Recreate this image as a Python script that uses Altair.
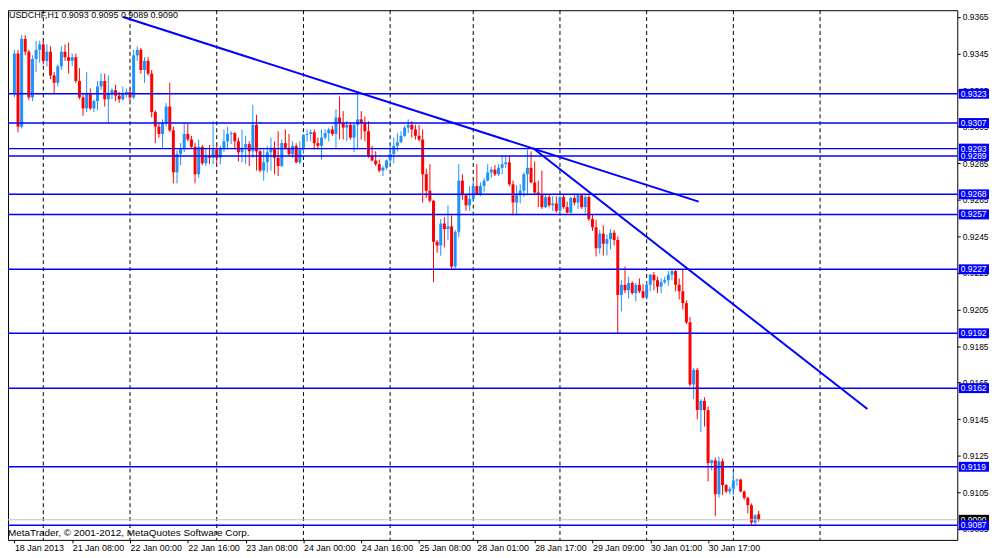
import altair as alt
import pandas as pd

# ---------------- data (USDCHF, H1) ----------------
opens = [
    0.9323, 0.9345, 0.9305, 0.9353, 0.9346, 0.9321, 0.9342, 0.9347, 0.9350, 0.9341,
    0.9346, 0.9333, 0.9329, 0.9338, 0.9346, 0.9343, 0.9341, 0.9343, 0.9330, 0.9321,
    0.9315, 0.9323, 0.9315, 0.9319, 0.9327, 0.9330, 0.9320, 0.9323, 0.9325, 0.9322,
    0.9320, 0.9323, 0.9324, 0.9321, 0.9344, 0.9347, 0.9336, 0.9341, 0.9334, 0.9313,
    0.9305, 0.9301, 0.9307, 0.9316, 0.9303, 0.9280, 0.9290, 0.9293, 0.9301, 0.9298,
    0.9294, 0.9279, 0.9294, 0.9285, 0.9289, 0.9288, 0.92925, 0.9288, 0.9293, 0.9297,
    0.9301, 0.93015, 0.9297, 0.9291, 0.92935, 0.92955, 0.92915, 0.9306, 0.92915, 0.9281,
    0.92855, 0.9291, 0.92935, 0.9288, 0.92835, 0.9296, 0.92935, 0.9290, 0.92945, 0.92855,
    0.92925, 0.93005, 0.9301, 0.9302, 0.9296, 0.92945, 0.9299, 0.93015, 0.93035, 0.9301,
    0.9310, 0.9307, 0.93045, 0.9306, 0.9299, 0.9306, 0.9309, 0.9307, 0.93025, 0.9289,
    0.92865, 0.92845, 0.9281, 0.92825, 0.92865, 0.9290, 0.92945, 0.92965, 0.9300, 0.93045,
    0.9306, 0.93035, 0.9300, 0.9298, 0.9279, 0.9270, 0.92645, 0.9242, 0.9240, 0.9252,
    0.9249, 0.92505, 0.92285, 0.92475, 0.92755, 0.92675, 0.9262, 0.92655, 0.92725, 0.9268,
    0.92725, 0.92755, 0.9280, 0.92815, 0.9279, 0.92825, 0.92845, 0.92855, 0.92735, 0.92635,
    0.92675, 0.9270, 0.9279, 0.92825, 0.92745, 0.9269, 0.9268, 0.9261, 0.92665, 0.9262,
    0.9263, 0.9259, 0.92665, 0.9261, 0.9258, 0.9266, 0.92635, 0.92675, 0.9261, 0.92665,
    0.92545, 0.9250, 0.92385, 0.92465, 0.9241, 0.92435, 0.9247, 0.9243, 0.9213, 0.92185,
    0.92155, 0.92195, 0.9214, 0.92185, 0.9215, 0.92115, 0.92185, 0.9224, 0.9221, 0.92175,
    0.9220, 0.9221, 0.9224, 0.9226, 0.92185, 0.9215, 0.92085, 0.9198, 0.9164, 0.9172,
    0.9150, 0.9155, 0.9150, 0.9121, 0.91225, 0.9104, 0.9122, 0.9109, 0.91055, 0.9107,
    0.91115, 0.9112, 0.91055, 0.9102, 0.9098, 0.90885, 0.9093,
]
highs = [
    0.9347, 0.9347, 0.9355, 0.9355, 0.9347, 0.9344, 0.9352, 0.9352, 0.9352, 0.9350,
    0.9349, 0.9335, 0.9339, 0.9349, 0.9350, 0.9351, 0.9345, 0.9345, 0.9337, 0.9323,
    0.9335, 0.9326, 0.9320, 0.9330, 0.9334, 0.9334, 0.9333, 0.9326, 0.9328, 0.9324,
    0.9327, 0.9326, 0.9326, 0.9347, 0.9349, 0.9348, 0.9343, 0.9343, 0.9336, 0.9314,
    0.9307, 0.9309, 0.9318, 0.9329, 0.9305, 0.9292, 0.9296, 0.9307, 0.9307, 0.9300,
    0.9296, 0.9298, 0.9295, 0.9293, 0.9295, 0.9308, 0.9295, 0.92945, 0.93035, 0.9305,
    0.93025, 0.9302, 0.9299, 0.93035, 0.9300, 0.9297, 0.9317, 0.93115, 0.92925, 0.92925,
    0.92945, 0.9299, 0.9297, 0.93025, 0.9298, 0.93035, 0.9301, 0.9297, 0.9296, 0.9297,
    0.9301, 0.93035, 0.93035, 0.93035, 0.9299, 0.93035, 0.93035, 0.93045, 0.93055, 0.93145,
    0.93215, 0.93135, 0.9308, 0.9307, 0.93065, 0.93235, 0.93135, 0.93105, 0.9308, 0.92945,
    0.92915, 0.9287, 0.92835, 0.9287, 0.9296, 0.9299, 0.93015, 0.93025, 0.93055, 0.9309,
    0.9308, 0.9306, 0.9306, 0.93035, 0.9282, 0.92845, 0.9265, 0.9243, 0.92545, 0.92555,
    0.9262, 0.92565, 0.92485, 0.92845, 0.9279, 0.9268, 0.92725, 0.92755, 0.92845, 0.92745,
    0.9277, 0.92845, 0.9283, 0.9284, 0.92845, 0.9289, 0.9289, 0.9289, 0.92755, 0.9273,
    0.92735, 0.9280, 0.92925, 0.92915, 0.9286, 0.92755, 0.9281, 0.92675, 0.9268, 0.9267,
    0.9267, 0.92675, 0.9268, 0.9264, 0.92665, 0.92675, 0.9268, 0.9268, 0.92675, 0.92675,
    0.9257, 0.9254, 0.92485, 0.9251, 0.9246, 0.9249, 0.92485, 0.9245, 0.9221, 0.92285,
    0.9223, 0.92205, 0.92195, 0.9222, 0.9219, 0.9220, 0.92245, 0.92255, 0.9223, 0.9222,
    0.9223, 0.9226, 0.9227, 0.9227, 0.9222, 0.9227, 0.9210, 0.9201, 0.9173, 0.9173,
    0.9156, 0.9157, 0.9152, 0.9123, 0.9124, 0.91245, 0.91235, 0.91095, 0.9108, 0.91165,
    0.91125, 0.91125, 0.9106, 0.91025, 0.9099, 0.9093, 0.9095,
]
lows = [
    0.9321, 0.9302, 0.9304, 0.9344, 0.93195, 0.9319, 0.9335, 0.9340, 0.9339, 0.9338,
    0.9331, 0.9323, 0.9327, 0.9336, 0.9341, 0.9334, 0.9338, 0.9329, 0.9320, 0.9311,
    0.9313, 0.9314, 0.9313, 0.9314, 0.9325, 0.9316, 0.9307, 0.9320, 0.9319, 0.9318,
    0.9319, 0.9321, 0.9319, 0.9320, 0.9341, 0.9334, 0.9329, 0.9333, 0.9310, 0.9296,
    0.9299, 0.9293, 0.9305, 0.9302, 0.9274, 0.9274, 0.9284, 0.9291, 0.9297, 0.9293,
    0.9274, 0.9277, 0.9284, 0.92835, 0.92845, 0.92845, 0.92845, 0.92845, 0.9291, 0.92925,
    0.92955, 0.92925, 0.9286, 0.92855, 0.92845, 0.92835, 0.9288, 0.9281, 0.9280, 0.92755,
    0.9280, 0.9281, 0.9279, 0.9278, 0.9283, 0.92925, 0.9289, 0.9288, 0.9285, 0.92845,
    0.9290, 0.9297, 0.9297, 0.92925, 0.92925, 0.9287, 0.9298, 0.9297, 0.9300, 0.92935,
    0.9298, 0.9298, 0.9297, 0.9298, 0.9291, 0.92925, 0.9298, 0.9297, 0.9288, 0.9286,
    0.92835, 0.9280, 0.9278, 0.92815, 0.92845, 0.9285, 0.92915, 0.9296, 0.92995, 0.93015,
    0.9299, 0.9298, 0.9297, 0.92635, 0.9266, 0.92635, 0.9220, 0.9236, 0.92345, 0.9239,
    0.9243, 0.92265, 0.92275, 0.92445, 0.9265, 0.9259, 0.9259, 0.92645, 0.92675, 0.9267,
    0.9269, 0.9275, 0.9277, 0.9278, 0.9278, 0.9279, 0.92825, 0.92725, 0.92565, 0.92565,
    0.9263, 0.92665, 0.92675, 0.9274, 0.92675, 0.9261, 0.9260, 0.92605, 0.9261, 0.9259,
    0.9258, 0.92585, 0.9260, 0.92575, 0.92575, 0.9262, 0.9260, 0.9260, 0.92575, 0.92535,
    0.9248, 0.9234, 0.92355, 0.92345, 0.92345, 0.9238, 0.9240, 0.9192, 0.9204, 0.9214,
    0.9211, 0.9213, 0.92095, 0.9214, 0.9211, 0.92105, 0.9215, 0.92155, 0.9214, 0.9214,
    0.9219, 0.9218, 0.9221, 0.9215, 0.92105, 0.9205, 0.9197, 0.9163, 0.9156, 0.9145,
    0.9138, 0.9141, 0.9111, 0.9117, 0.9092, 0.9102, 0.91035, 0.91045, 0.9104, 0.91035,
    0.91085, 0.9105, 0.9101, 0.90935, 0.9087, 0.90875, 0.9089,
]
closes = [
    0.9345, 0.9305, 0.9353, 0.9346, 0.9321, 0.9342, 0.9347, 0.9350, 0.9341, 0.9346,
    0.9333, 0.9329, 0.9338, 0.9346, 0.9343, 0.9341, 0.9343, 0.9330, 0.9321, 0.9315,
    0.9323, 0.9315, 0.9319, 0.9327, 0.9330, 0.9320, 0.9323, 0.9325, 0.9322, 0.9320,
    0.9323, 0.9324, 0.9321, 0.9344, 0.9347, 0.9336, 0.9341, 0.9334, 0.9313, 0.9305,
    0.9301, 0.9307, 0.9316, 0.9303, 0.9280, 0.9290, 0.9293, 0.9301, 0.9298, 0.9294,
    0.9279, 0.9294, 0.9285, 0.9289, 0.9288, 0.92925, 0.9288, 0.9293, 0.9297, 0.9301,
    0.93015, 0.9297, 0.9291, 0.92935, 0.92955, 0.92915, 0.9306, 0.92915, 0.9281, 0.92855,
    0.9291, 0.92935, 0.9288, 0.92835, 0.9296, 0.92935, 0.9290, 0.92945, 0.92855, 0.92925,
    0.93005, 0.9301, 0.9302, 0.9296, 0.92945, 0.9299, 0.93015, 0.93035, 0.9301, 0.9310,
    0.9307, 0.93045, 0.9306, 0.9299, 0.9306, 0.9309, 0.9307, 0.93025, 0.9289, 0.92865,
    0.92845, 0.9281, 0.92825, 0.92865, 0.9290, 0.92945, 0.92965, 0.9300, 0.93045, 0.9306,
    0.93035, 0.9300, 0.9298, 0.9279, 0.9270, 0.92645, 0.9242, 0.9240, 0.9252, 0.9249,
    0.92505, 0.92285, 0.92475, 0.92755, 0.92675, 0.9262, 0.92655, 0.92725, 0.9268, 0.92725,
    0.92755, 0.9280, 0.92815, 0.9279, 0.92825, 0.92845, 0.92855, 0.92735, 0.92635, 0.92675,
    0.9270, 0.9279, 0.92825, 0.92745, 0.9269, 0.9268, 0.9261, 0.92665, 0.9262, 0.9263,
    0.9259, 0.92665, 0.9261, 0.9258, 0.9266, 0.92635, 0.92675, 0.9261, 0.92665, 0.92545,
    0.9250, 0.92385, 0.92465, 0.9241, 0.92435, 0.9247, 0.9243, 0.9213, 0.92185, 0.92155,
    0.92195, 0.9214, 0.92185, 0.9215, 0.92115, 0.92185, 0.9224, 0.9221, 0.92175, 0.9220,
    0.9221, 0.9224, 0.9226, 0.92185, 0.9215, 0.92085, 0.9198, 0.9164, 0.9172, 0.9150,
    0.9155, 0.9150, 0.9121, 0.91225, 0.9104, 0.9122, 0.9109, 0.91055, 0.9107, 0.91115,
    0.9112, 0.91055, 0.9102, 0.9098, 0.90885, 0.90925, 0.9090,
]

time_tick_bars = [0, 16, 32, 48, 64, 80, 96, 112, 128, 144, 160, 176, 192]
time_tick_labels = ["18 Jan 2013", "21 Jan 08:00", "22 Jan 00:00", "22 Jan 16:00",
                    "23 Jan 08:00", "24 Jan 00:00", "24 Jan 16:00", "25 Jan 08:00",
                    "28 Jan 01:00", "28 Jan 17:00", "29 Jan 09:00", "30 Jan 01:00",
                    "30 Jan 17:00"]
day_separator_bars = [8, 32, 56, 80, 104, 127, 151, 175, 199, 223]
price_ticks = [0.9085, 0.9105, 0.9125, 0.9145, 0.9165, 0.9185, 0.9205, 0.9225,
               0.9245, 0.9265, 0.9285, 0.9305, 0.9325, 0.9345, 0.9365]
level_prices = [0.9323, 0.9307, 0.9293, 0.9289, 0.9268, 0.9257, 0.9227,
                0.9192, 0.9162, 0.9119, 0.9087]
trend_start_bar = [30.1, 143.5]
trend_start_price = [0.9365, 0.92933]
trend_end_bar = [189.4, 236.1]
trend_end_price = [0.9264, 0.91506]
symbol = "USDCHF,H1"
copyright_text = "MetaTrader, \u00a9 2001-2012, MetaQuotes Software Corp."

# ---------------- styling ----------------
W, H = 957, 534
BLUE = "#0000FF"
UP, DOWN = "#1E90FF", "#FF0000"
FONT = "Liberation Sans"

n = len(opens)
candles = pd.DataFrame({"bar": list(range(n)), "open": opens, "high": highs,
                        "low": lows, "close": closes})
candles["dir"] = ["up" if c >= o else "down" for o, c in zip(opens, closes)]

xscale = alt.Scale(domain=[-0.4, 259.6], nice=False, zero=False)
yscale = alt.Scale(domain=[0.9079, 0.93687], nice=False, zero=False)

label_expr = " : ".join(f"datum.value == {b} ? '{t}'"
                        for b, t in zip(time_tick_bars, time_tick_labels)) + " : ''"

xaxis = alt.Axis(values=time_tick_bars, labelExpr=label_expr, labelAlign="left",
                 labelBaseline="top", tickSize=3, labelPadding=1, grid=False,
                 domain=False, title=None, labelFont=FONT, labelFontSize=9,
                 labelColor="black", tickColor="black", labelFlush=False,
                 labelOverlap=False)
yaxis = alt.Axis(orient="right", values=price_ticks, format=".4f", tickSize=3,
                 labelPadding=2, grid=False, domain=False, title=None,
                 labelFont=FONT, labelFontSize=8.5, labelColor="black",
                 tickColor="black", labelOverlap=False, labelFlush=False)

X = lambda f: alt.X(f, scale=xscale, axis=xaxis)
Y = lambda f: alt.Y(f, scale=yscale, axis=yaxis)
color = alt.Color("dir:N", scale=alt.Scale(domain=["up", "down"], range=[UP, DOWN]),
                  legend=None)

grid = alt.Chart(pd.DataFrame({"bar": day_separator_bars})).mark_rule(
    color="black", strokeDash=[4, 3], strokeWidth=1).encode(x=X("bar:Q"))

base = alt.Chart(candles)
wicks = base.mark_rule(strokeWidth=1).encode(x=X("bar:Q"), y=Y("low:Q"), y2="high:Q",
                                             color=color)
bodies = base.mark_bar(size=3).encode(x=X("bar:Q"), y=Y("open:Q"), y2="close:Q",
                                      color=color)

levels_df = pd.DataFrame({"price": level_prices})
levels = alt.Chart(levels_df).mark_rule(color=BLUE, strokeWidth=1.5).encode(y=Y("price:Q"))

bid_df = pd.DataFrame({"price": [closes[-1]]})
bid_line = alt.Chart(bid_df).mark_rule(color="#C0C0C0", strokeWidth=1).encode(y=Y("price:Q"))

trend_df = pd.DataFrame({"b0": trend_start_bar, "p0": trend_start_price,
                         "b1": trend_end_bar, "p1": trend_end_price})
trends = alt.Chart(trend_df).mark_rule(color=BLUE, strokeWidth=2).encode(
    x=X("b0:Q"), x2="b1:Q", y=Y("p0:Q"), y2="p1:Q")

bid_box = alt.Chart(bid_df).mark_rule(color="black", strokeWidth=10).encode(
    x=alt.value(958.5), x2=alt.value(989), y=Y("price:Q"))
bid_text = alt.Chart(bid_df).mark_text(align="left", baseline="middle", color="white",
                                       font=FONT, fontSize=8.5).encode(
    x=alt.value(960.5), y=Y("price:Q"), text=alt.Text("price:Q", format=".4f"))

level_box = alt.Chart(levels_df).mark_rule(color=BLUE, strokeWidth=10).encode(
    x=alt.value(958.5), x2=alt.value(989), y=Y("price:Q"))
level_text = alt.Chart(levels_df).mark_text(align="left", baseline="middle", color="white",
                                            font=FONT, fontSize=8.5).encode(
    x=alt.value(960.5), y=Y("price:Q"), text=alt.Text("price:Q", format=".4f"))

header = f"{symbol}  {opens[-1]:.4f} {highs[-1]:.4f} {lows[-1]:.4f} {closes[-1]:.4f}"
title_text = alt.Chart(pd.DataFrame({"t": [header]})).mark_text(
    align="left", baseline="middle", color="black", font=FONT, fontSize=9).encode(
    x=alt.value(1), y=alt.value(4.5), text="t:N")
copy_text = alt.Chart(pd.DataFrame({"t": [copyright_text]})).mark_text(
    align="left", baseline="middle", color="black", font=FONT, fontSize=10).encode(
    x=alt.value(0), y=alt.value(527), text="t:N")

chart = alt.layer(
    grid, wicks, bodies, bid_line, levels, trends,
    bid_box, bid_text, level_box, level_text, title_text, copy_text
).properties(
    width=W, height=H,
    autosize=alt.AutoSizeParams(type="none"),
    padding={"left": 0, "top": 0, "right": 35, "bottom": 14},
).configure(background="white").configure_view(stroke="black", strokeWidth=1)

chart.save("out.html", embed_options={"renderer": "svg", "actions": False})
